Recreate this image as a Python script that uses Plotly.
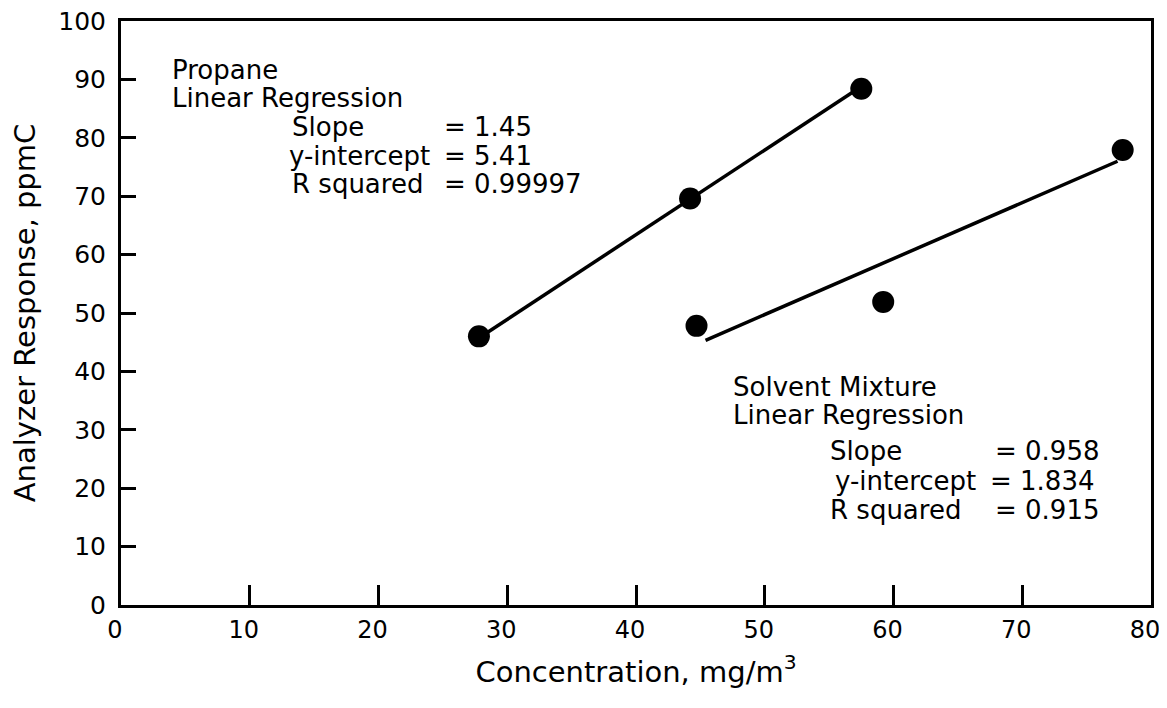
import plotly.graph_objects as go

# ---- data ----
propane_x = [27.8, 44.2, 57.5]
propane_y = [46.0, 69.6, 88.4]
solvent_x = [44.7, 59.2, 77.8]
solvent_y = [47.8, 51.9, 77.9]

propane_slope, propane_intercept = 1.45, 5.41
propane_fit_x = [27.8, 57.5]
solvent_slope, solvent_intercept = 0.958, 1.834
solvent_fit_x = [45.4, 77.4]

x_ticks = [0, 10, 20, 30, 40, 50, 60, 70, 80]
y_ticks = [0, 10, 20, 30, 40, 50, 60, 70, 80, 90, 100]

FONT = "DejaVu Sans"
BODY = 8                      # default page margin around the plot div
W, H = 1167 - 2 * BODY, 708 - 2 * BODY
# plot area in page pixels: x 121..1151, y 21..605
L = 121 - BODY
R = W - (1151 - BODY)
T = 21 - BODY
B = H - (605 - BODY)

fig = go.Figure()

fig.add_trace(go.Scatter(
    x=propane_fit_x,
    y=[propane_slope * v + propane_intercept for v in propane_fit_x],
    mode="lines", line=dict(color="black", width=3.5), showlegend=False,
    hoverinfo="skip"))
fig.add_trace(go.Scatter(
    x=solvent_fit_x,
    y=[solvent_slope * v + solvent_intercept for v in solvent_fit_x],
    mode="lines", line=dict(color="black", width=3.5), showlegend=False,
    hoverinfo="skip"))
fig.add_trace(go.Scatter(
    x=propane_x, y=propane_y, mode="markers", name="Propane",
    marker=dict(color="black", size=22), showlegend=False))
fig.add_trace(go.Scatter(
    x=solvent_x, y=solvent_y, mode="markers", name="Solvent Mixture",
    marker=dict(color="black", size=22), showlegend=False))


# page-pixel -> paper helpers (plot area spans 121..1151 x, 21..605 y)
def px(xp):
    return (xp - 121) / (1151 - 121)


def py(yp):
    return (605 - yp) / (605 - 21)


texts = [
    ("Propane", 170, 70),
    ("Linear Regression", 170, 98),
    ("Slope", 290, 127),
    ("= 1.45", 442, 127),
    ("y-intercept", 287, 155.5),
    ("= 5.41", 442, 155.5),
    ("R squared", 290, 184),
    ("= 0.99997", 442, 184),
    ("Solvent Mixture", 731, 387),
    ("Linear Regression", 731, 415),
    ("Slope", 828, 451),
    ("= 0.958", 993, 451),
    ("y-intercept", 833, 481),
    ("= 1.834", 988, 481),
    ("R squared", 828, 510),
    ("= 0.915", 993, 510),
]
for t, xx, yy in texts:
    fig.add_annotation(text=t, x=px(xx), y=py(yy), xref="paper", yref="paper",
                       xanchor="left", yanchor="middle", showarrow=False,
                       font=dict(family=FONT, size=26, color="black"))

axis_common = dict(
    showline=True, linecolor="black", linewidth=3, mirror=True,
    showgrid=False, zeroline=False, ticks="inside", tickwidth=3,
    tickcolor="black", ticklabeloverflow="allow",
)

fig.update_xaxes(range=[0, 80], tickvals=x_ticks, ticklen=20,
                 ticklabelstandoff=1, ticklabelshift=-6,
                 tickfont=dict(family=FONT, size=24, color="black"),
                 title=dict(text="Concentration, mg/m<sup>3</sup>",
                            font=dict(family=FONT, size=29, color="black"),
                            standoff=19),
                 **axis_common)
fig.update_yaxes(range=[0, 100], tickvals=y_ticks, ticklen=15,
                 ticklabelstandoff=7,
                 tickfont=dict(family=FONT, size=25, color="black"),
                 title=dict(text="Analyzer Response, ppmC",
                            font=dict(family=FONT, size=29, color="black"),
                            standoff=32),
                 **axis_common)

fig.update_layout(
    width=W, height=H,
    margin=dict(l=L, r=R, t=T, b=B, autoexpand=False),
    plot_bgcolor="white", paper_bgcolor="white",
    font=dict(family=FONT, color="black"),
)

fig.write_html("out.html")
